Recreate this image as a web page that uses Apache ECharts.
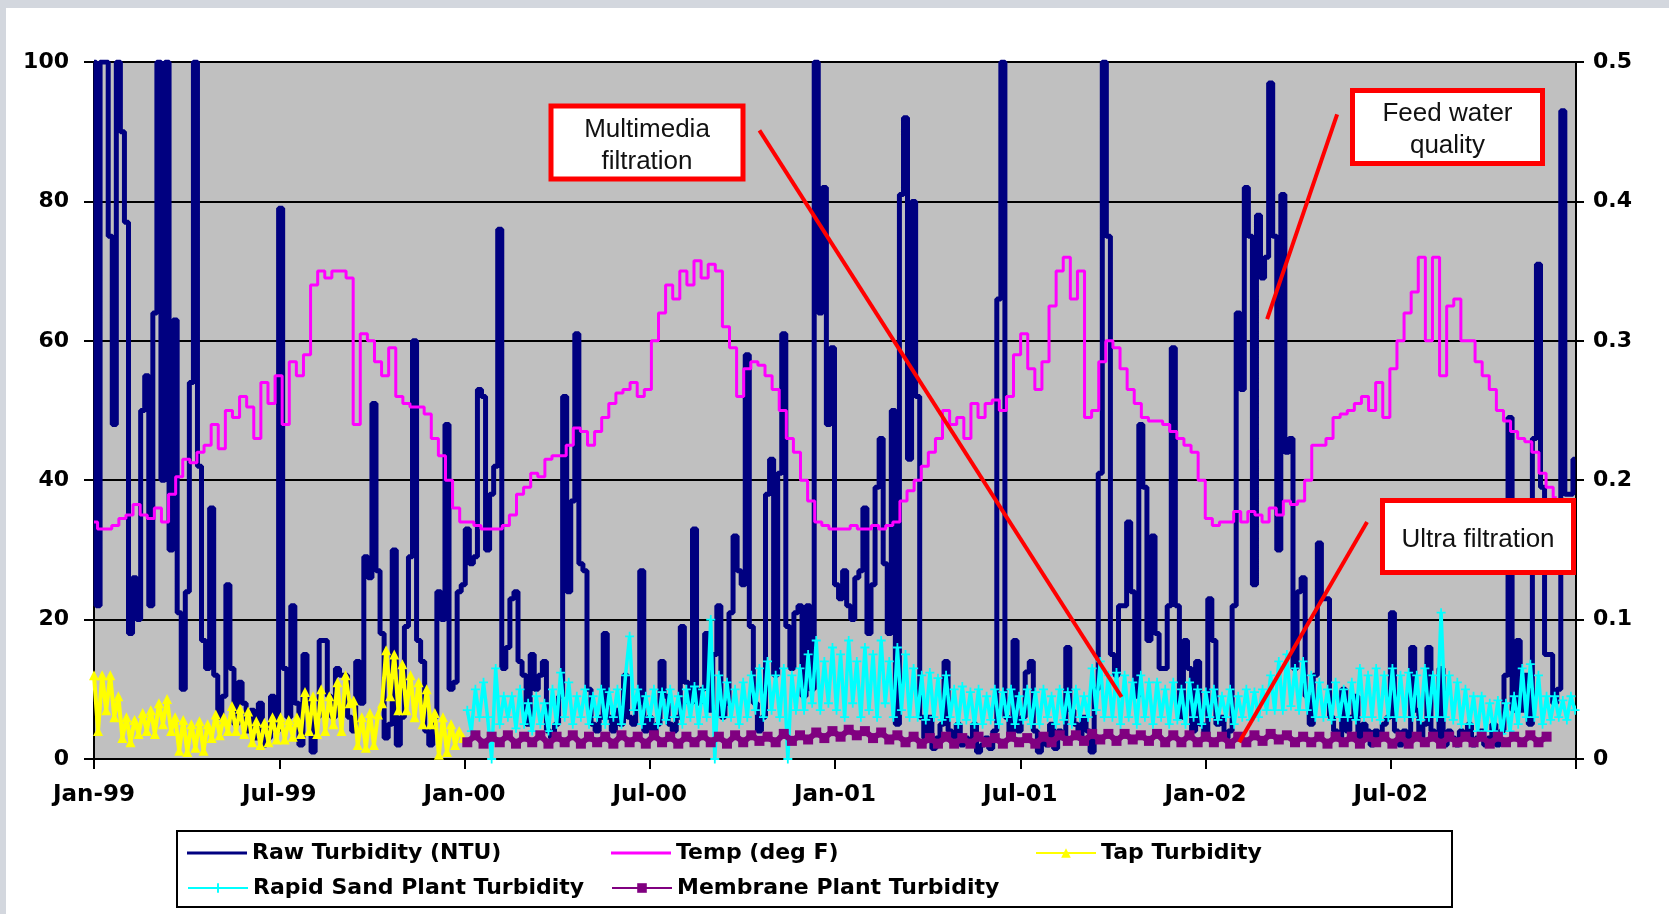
<!DOCTYPE html>
<html><head><meta charset="utf-8">
<script src="https://cdn.jsdelivr.net/npm/echarts@6/dist/echarts.min.js"></script>
<style>html,body{margin:0;padding:0;background:#fff}#c{width:1669px;height:914px}</style>
</head><body><div id="c"></div>
<script>
// x axis: days since 1 Jan 1999, tick every half year
const xTickLabels = ['Jan-99','Jul-99','Jan-00','Jul-00','Jan-01','Jul-01','Jan-02','Jul-02',''];
const leftTicks = [0,20,40,60,80,100];
const rightTicks = [0,0.1,0.2,0.3,0.4,0.5];

// Raw turbidity (NTU), left axis, every 4 days from day 0
const rawStart = 0, rawStep = 4;
const rawTurbidity = [
100,22,100,100,75,48,100,90,77,18,
26,20,50,55,22,64,100,40,100,30,
63,21,10,24,54,100,42,17,13,36,
12,6,9,25,13,5,11,8,4,7,
3,8,2,3,9,4,79,13,6,22,
8,2,15,8,1,6,17,17,9,6,
13,
12,12,6,4,14,8,29,26,51,27,
18,3,5,30,2,6,19,29,60,17,
14,4,2,6,24,20,48,10,11,24,
25,33,28,29,53,52,30,38,42,76,
13,16,23,24,14,12,5,15,10,12,
14,4,3,5,9,52,24,37,61,28,
27,10,5,4,6,18,6,4,7,5,
12,6,5,8,27,4,6,4,5,14,
9,5,4,6,19,11,8,33,8,10,
18,7,15,22,6,8,21,32,27,25,
58,19,8,4,6,38,43,12,41,61,
19,13,21,22,9,22,10,100,64,82,
48,
59,25,23,27,22,20,26,27,36,18,
25,39,46,28,18,50,5,81,92,43,
80,52,6,3,6,1.5,3,5,14,4,
3,5,2,3,2,5,1,2,3,1.5,
4,66,100,6,3,17,4,6,12.5,14,
4,1,3,2,5,1.5,4,3,16,7,
5,3,6,4,1,10,41,100,75,15,
12,22,22,34,24,9,48,39,17,32,
18,13,13,22,59,22,6,17,13,4,
14,5,3,23,17,5,6,3,4,22,
64,53,82,75,25,78,69,72,97,75,
30,81,44,46,13,24,26,9,5,12,
31,
23,23,6,4,3,10,4,6,9,3,
5,4,2,4,3,5,6,21,4,2,
4,3,16,7,3,5,16,4,3,13,
2,4,3,2,4,3,5,2,3,4,
2,3,5,2,4,12,49,7,17,7,
12,5,46,71,39,15,15,8,10,93,
38,38,43
];

// Temperature (deg F), left axis, weekly from day 0
const tempStart = 0, tempStep = 7;
const temperature = [
34,33,33,33.5,34.5,35,36.5,35,34.5,36,
34,38,40.5,43,42.5,44,45,48,44.5,50,
49,52,50.5,46,54,51,55,48,57,55,
58,68,70,69,70,70,69,48,61,60,
57,55,59,52,51,50.5,50.5,49.5,46,43.5,
40,36,34,34,33.5,33,33,33,33.5,35,
38,39,41,40.5,43,43.5,43.5,45,47.5,47,
45,47,49,51,52.5,53,54,52,53,60,
64,68,66,70,68,71.5,69,71,70,62,
59,52,56,57,56.5,55,53,50,46,44,
40,37,34,33.5,33,33,33,33.5,33,33,
33.5,33,33.5,34,37,38.5,40,42,44,46,
50,48,49,46,51,49,51,51.5,50,52,
58,61,56,53,57,65,70,72,66,70,
49,50,57,60,59,56,53,51,49,48.5,
48.5,48,47,46,45,44,40,34.5,33.5,34,
34,35.5,34,35.5,35,34,36,35,37,36.5,
37,40,45,45,46,49,49.5,50,51,52,
50,54,49,56,60,64,67,72,60,72,
55,65,66,60,60,57,55,53,50,48.5,
47,46,45.5,44,41,39,37.5
];

// Tap turbidity (NTU), right axis, every 4 days from day 0
const tapStart = 0, tapStep = 4;
const tapTurbidity = [
0.06,0.02,0.06,0.035,0.06,0.03,0.045,0.015,0.03,0.012,
0.028,0.018,0.033,0.02,0.035,0.018,0.04,0.025,0.043,0.02,
0.03,0.006,0.028,0.005,0.025,0.008,0.027,0.006,0.025,0.015,
0.032,0.017,0.03,0.02,0.038,0.02,0.036,0.018,0.034,0.012,
0.027,0.01,0.026,0.012,0.03,0.014,0.03,0.014,0.028,0.016,
0.03,0.018,0.048,0.02,0.045,0.018,0.05,0.02,0.045,0.025,
0.055,0.02,0.06,0.04,0.042,0.01,0.03,0.008,0.033,0.01,
0.032,0.04,0.078,0.045,0.075,0.035,0.068,0.035,0.06,0.03,
0.055,0.025,0.05,0.025,0.033,0.003,0.03,0.005,0.025,0.01,
0.02,0.015
];

// Rapid sand plant turbidity (NTU), right axis, every 4 days from day 368
const sandStart = 368, sandStep = 4;
const rapidSand = [
0.035,0.02,0.05,0.03,0.055,0.03,0.0,0.065,0.025,0.045,
0.03,0.045,0.022,0.05,0.025,0.04,0.02,0.045,0.025,0.04,
0.02,0.05,0.025,0.062,0.03,0.055,0.025,0.045,0.03,0.05,
0.025,0.045,0.03,0.05,0.025,0.048,0.03,0.05,0.025,0.06,
0.088,0.035,0.05,0.025,0.045,0.03,0.05,0.025,0.048,0.028,
0.05,0.03,0.045,0.025,0.05,0.03,0.052,0.025,0.05,0.03,
0.1,0.0,0.06,0.03,0.055,0.03,0.05,0.025,0.055,0.03,
0.06,0.035,0.065,0.03,0.07,0.035,0.06,0.03,0.065,0.0,
0.06,0.035,0.065,0.035,0.075,0.04,0.085,0.035,0.07,0.04,
0.08,0.035,0.075,0.03,0.085,0.04,0.07,0.03,0.08,0.035,
0.075,0.03,0.085,0.04,0.07,0.03,0.08,0.035,0.075,0.03,
0.065,0.03,0.06,0.028,0.062,0.03,0.058,0.028,0.06,0.03,
0.05,0.025,0.052,0.028,0.048,0.025,0.05,0.025,0.045,0.028,
0.05,0.025,0.048,0.03,0.05,0.025,0.045,0.028,0.05,0.025,
0.048,0.025,0.05,0.03,0.045,0.025,0.05,0.028,0.048,0.025,
0.05,0.03,0.045,0.03,0.065,0.035,0.07,0.03,0.06,0.03,
0.062,0.025,0.06,0.03,0.055,0.025,0.06,0.03,0.055,0.025,
0.055,0.03,0.05,0.025,0.055,0.028,0.05,0.025,0.055,0.03,
0.05,0.025,0.048,0.03,0.05,0.028,0.045,0.03,0.05,0.025,
0.045,0.03,0.05,0.028,0.048,0.03,0.05,0.035,0.06,0.035,
0.07,0.035,0.075,0.038,0.065,0.035,0.07,0.035,0.06,0.03,
0.055,0.03,0.05,0.028,0.055,0.03,0.05,0.03,0.055,0.028,
0.065,0.03,0.06,0.03,0.065,0.028,0.06,0.03,0.065,0.03,
0.06,0.03,0.062,0.03,0.06,0.028,0.065,0.03,0.06,0.03,
0.105,0.03,0.06,0.028,0.055,0.025,0.05,0.025,0.045,0.02,
0.045,0.02,0.04,0.02,0.042,0.018,0.04,0.02,0.045,0.025,
0.065,0.03,0.068,0.03,0.06,0.025,0.045,0.028,0.045,0.03,
0.042,0.028,0.045,0.035
];

// Membrane plant turbidity (NTU), right axis, every 8 days from day 368
const memStart = 368, memStep = 8;
const membrane = [
0.012,0.017,0.011,0.016,0.012,0.017,0.011,0.016,0.012,0.017,
0.011,0.016,0.012,0.017,0.011,0.016,0.012,0.016,0.011,0.017,
0.012,0.016,0.011,0.017,0.012,0.016,0.011,0.016,0.012,0.017,
0.012,0.016,0.011,0.017,0.012,0.017,0.013,0.016,0.012,0.018,
0.013,0.017,0.014,0.019,0.015,
0.02,0.016,0.021,0.017,0.02,0.015,0.019,0.014,0.017,0.012,
0.016,0.011,0.015,0.011,0.016,0.011,0.015,0.011,0.016,0.012,
0.015,0.011,0.016,0.012,0.015,0.011,0.016,0.012,0.017,0.013,
0.017,
0.013,0.018,0.014,0.018,0.013,0.018,0.014,0.017,0.013,0.018,
0.012,0.017,0.012,0.017,0.012,0.016,0.012,0.016,0.011,0.016,
0.012,0.017,0.013,0.018,0.014,0.017,0.012,0.016,0.012,0.016,
0.011,0.016,0.012,0.016,0.011,0.016,0.012,0.016,0.011,0.016,
0.011,0.016,0.012,0.016,0.011,0.016,0.012,0.016,0.012,0.016,
0.011,0.016,0.012,0.016,0.012,0.017,0.012,0.016
];

const seriesNames = ['Raw Turbidity (NTU)','Temp (deg F)','Tap Turbidity','Rapid Sand Plant Turbidity','Membrane Plant Turbidity'];

// Call-out pointers in data space [day, left-axis value]
const pointerLines = [
  [[656, 90.2], [1013, 8.9]],
  [[1225.5, 92.5], [1156.5, 63.1]],
  [[1255, 34], [1129, 2.4]]
];

function pairs(start, step, arr) { return arr.map((v, i) => [start + i * step, v]); }

const chart = echarts.init(document.getElementById('c'), null, {renderer: 'canvas'});
const HALF_YEAR = 1461 / 8;
const tickFont = {fontFamily: 'DejaVu Sans', fontWeight: 'bold', fontSize: 22, color: '#000'};
const legendFont = {fontFamily: 'DejaVu Sans', fontWeight: 'bold', fontSize: 22, color: '#000'};
const black2 = {color: '#000', width: 2};

function legendAt(name, left, top, plainLine) {
  const l = {data: [name], left: left, top: top, padding: 0, itemWidth: 60, itemHeight: 12,
          selectedMode: false, textStyle: legendFont};
  if (plainLine) { l.icon = 'rect'; l.itemHeight = 3; }
  return l;
}

function callout(x, y, w, h, text) {
  return {type: 'group', x: x, y: y, z: 100, children: [
    {type: 'rect', z: 100, shape: {x: 0, y: 0, width: w, height: h},
     style: {fill: '#fff', stroke: '#ff0000', lineWidth: 5}},
    {type: 'text', z: 101, x: w / 2, y: h / 2 + 3,
     style: {text: text, align: 'center', verticalAlign: 'middle',
             font: '26px "Liberation Sans"', lineHeight: 32, fill: '#111'}}
  ]};
}

const plusPath = 'path://M4,0H6V4H10V6H6V10H4V6H0V4H4Z';

chart.setOption({
  animation: false,
  backgroundColor: '#fff',
  grid: {left: 94, right: 93, top: 62, bottom: 155, show: true, backgroundColor: '#c0c0c0', borderWidth: 0},
  xAxis: {
    type: 'value', min: 0, max: 1461, interval: HALF_YEAR,
    axisLine: {show: true, lineStyle: black2},
    axisTick: {show: true, length: 10, lineStyle: black2},
    splitLine: {show: false},
    axisLabel: {margin: 25, ...tickFont, fontSize: 23,
      formatter: v => xTickLabels[Math.round(v / HALF_YEAR)] || ''}
  },
  yAxis: [
    {type: 'value', min: leftTicks[0], max: leftTicks[leftTicks.length - 1], interval: 20,
     axisLine: {show: true, lineStyle: black2},
     axisTick: {show: true, length: 10, lineStyle: black2},
     splitLine: {show: true, lineStyle: black2},
     axisLabel: {margin: 25, ...tickFont}},
    {type: 'value', min: rightTicks[0], max: rightTicks[rightTicks.length - 1], interval: 0.1,
     position: 'right',
     axisLine: {show: true, lineStyle: black2},
     axisTick: {show: true, length: 8, lineStyle: black2},
     splitLine: {show: false},
     axisLabel: {margin: 17, ...tickFont, formatter: v => v === 0 ? '0' : v.toFixed(1)}}
  ],
  legend: [
    legendAt(seriesNames[0], 187, 842, true),
    legendAt(seriesNames[1], 611, 842, true),
    legendAt(seriesNames[2], 1035, 842),
    legendAt(seriesNames[3], 187, 877),
    legendAt(seriesNames[4], 611, 877)
  ],
  series: [
    {name: seriesNames[0], type: 'line', yAxisIndex: 0, step: 'middle', symbol: 'none',
     data: pairs(rawStart, rawStep, rawTurbidity),
     lineStyle: {color: '#000080', width: 5}, itemStyle: {color: '#000080'}, z: 2,
     markLine: {silent: true, symbol: ['none', 'none'], label: {show: false}, z: 10,
       lineStyle: {color: '#ff0000', width: 4, type: 'solid'},
       emphasis: {disabled: true},
       data: pointerLines.map(p => [{coord: p[0]}, {coord: p[1]}])}},
    {name: seriesNames[1], type: 'line', yAxisIndex: 0, step: 'middle', symbol: 'none',
     data: pairs(tempStart, tempStep, temperature),
     lineStyle: {color: '#ff00ff', width: 3}, itemStyle: {color: '#ff00ff'}, z: 3},
    {name: seriesNames[2], type: 'line', yAxisIndex: 1, symbol: 'triangle', symbolSize: 10,
     data: pairs(tapStart, tapStep, tapTurbidity),
     lineStyle: {color: '#ffff00', width: 4}, itemStyle: {color: '#ffff00'}, z: 4},
    {name: seriesNames[3], type: 'line', yAxisIndex: 1, symbol: plusPath, symbolSize: 9,
     data: pairs(sandStart, sandStep, rapidSand),
     lineStyle: {color: '#00ffff', width: 3.5}, itemStyle: {color: '#00ffff'}, z: 5},
    {name: seriesNames[4], type: 'line', yAxisIndex: 1, symbol: 'rect', symbolSize: 10,
     data: pairs(memStart, memStep, membrane),
     lineStyle: {color: '#800080', width: 6}, itemStyle: {color: '#800080'}, z: 6}
  ],
  graphic: [
    {type: 'rect', z: -1, shape: {x: 0, y: 0, width: 1669, height: 8}, style: {fill: '#d3d7de'}},
    {type: 'rect', z: -1, shape: {x: 0, y: 0, width: 6, height: 914}, style: {fill: '#d3d7de'}},
    {type: 'rect', z: 1, shape: {x: 177, y: 831, width: 1275, height: 76},
     style: {fill: 'none', stroke: '#000', lineWidth: 2}},
    callout(551, 106, 192, 73, 'Multimedia\nfiltration'),
    callout(1352.5, 90.5, 190, 73, 'Feed water\nquality'),
    callout(1382.5, 500.5, 191, 72, 'Ultra filtration')
  ]
});
</script></body></html>
